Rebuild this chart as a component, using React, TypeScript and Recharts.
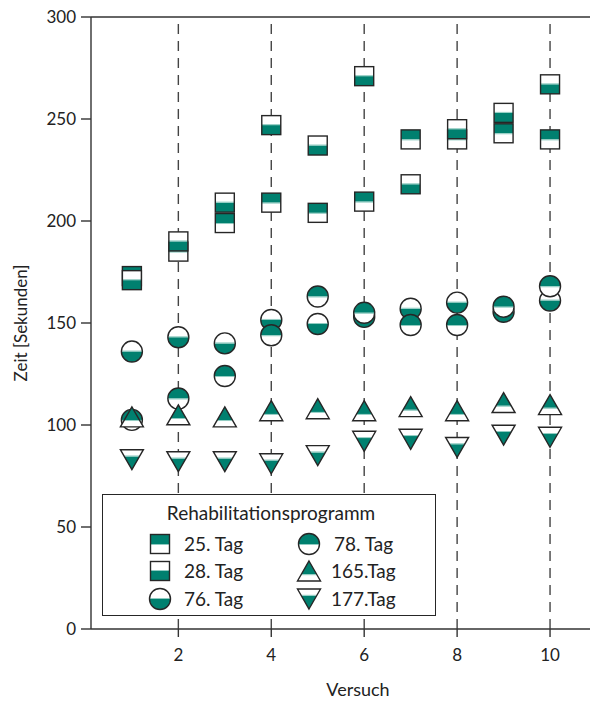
import React from 'react';
import { ScatterChart, Scatter, XAxis, YAxis, ReferenceLine, Legend } from 'recharts';

const TEAL = '#00806f';
const SEAM = '#8fcbc1';
const EDGE = '#262626';
const FONT = 'Lato, "Open Sans", sans-serif';

const trials = [1, 2, 3, 4, 5, 6, 7, 8, 9, 10];
const xTicks = [2, 4, 6, 8, 10];
const yTicks = [0, 50, 100, 150, 200, 250, 300];

const tag25 = [173, 185, 199, 209, 204, 209.5, 240, 240, 243, 240];
const tag28 = [171, 190, 209, 247, 237, 271, 218, 245, 253, 267];
const tag76 = [136, 143, 140, 151.5, 149.5, 153, 157, 160, 155.5, 161];
const tag78 = [102.5, 113, 124, 144, 163, 155, 149, 149, 158, 168];
const tag165 = [104, 105, 104, 107, 108, 107, 109, 107, 111, 110];
const tag177 = [83, 82, 82, 81, 85, 92, 93, 89, 95, 94];

const seriesNames = ['25. Tag', '28. Tag', '76. Tag', '78. Tag', '165.Tag', '177.Tag'];

type Kind = 'sqTop' | 'sqBot' | 'cirBot' | 'cirTop' | 'triUp' | 'triDown';

const toPoints = (vals: number[]) => vals.map((y, i) => ({ x: trials[i], y }));

function MarkerShape({ cx, cy, kind }: { cx: number; cy: number; kind: Kind }) {
  if (cx == null || cy == null) return null;
  if (kind === 'sqTop' || kind === 'sqBot') {
    const s = 19;
    const x = cx - s / 2;
    const y = cy - s / 2;
    const top = kind === 'sqTop';
    return (
      <g>
        <rect x={x} y={y} width={s} height={s} fill="#fff" />
        <rect x={x} y={top ? y : cy} width={s} height={s / 2} fill={TEAL} />
        <line x1={x} x2={x + s} y1={top ? cy + 0.5 : cy - 0.5} y2={top ? cy + 0.5 : cy - 0.5} stroke={SEAM} strokeWidth={1} />
        <rect x={x} y={y} width={s} height={s} fill="none" stroke={EDGE} strokeWidth={1.4} />
      </g>
    );
  }
  if (kind === 'cirTop' || kind === 'cirBot') {
    const r = 10.5;
    const top = kind === 'cirTop';
    const d = `M ${cx - r} ${cy} A ${r} ${r} 0 0 ${top ? 1 : 0} ${cx + r} ${cy} Z`;
    return (
      <g>
        <circle cx={cx} cy={cy} r={r} fill="#fff" />
        <path d={d} fill={TEAL} />
        <line x1={cx - r + 0.5} x2={cx + r - 0.5} y1={top ? cy + 0.5 : cy - 0.5} y2={top ? cy + 0.5 : cy - 0.5} stroke={SEAM} strokeWidth={1} />
        <circle cx={cx} cy={cy} r={r} fill="none" stroke={EDGE} strokeWidth={1.4} />
      </g>
    );
  }
  const w = 23;
  const h = 20;
  const f = 0.66;
  if (kind === 'triUp') {
    const ay = cy - h / 2;
    const by = cy + h / 2;
    const my = ay + f * h;
    return (
      <g>
        <polygon points={`${cx},${ay} ${cx + w / 2},${by} ${cx - w / 2},${by}`} fill="#fff" />
        <polygon points={`${cx},${ay} ${cx + (f * w) / 2},${my} ${cx - (f * w) / 2},${my}`} fill={TEAL} />
        <line x1={cx - (f * w) / 2} x2={cx + (f * w) / 2} y1={my + 0.5} y2={my + 0.5} stroke={SEAM} strokeWidth={1} />
        <polygon points={`${cx},${ay} ${cx + w / 2},${by} ${cx - w / 2},${by}`} fill="none" stroke={EDGE} strokeWidth={1.4} />
      </g>
    );
  }
  const ay = cy + h / 2;
  const by = cy - h / 2;
  const my = ay - f * h;
  return (
    <g>
      <polygon points={`${cx},${ay} ${cx + w / 2},${by} ${cx - w / 2},${by}`} fill="#fff" />
      <polygon points={`${cx},${ay} ${cx + (f * w) / 2},${my} ${cx - (f * w) / 2},${my}`} fill={TEAL} />
      <line x1={cx - (f * w) / 2} x2={cx + (f * w) / 2} y1={my - 0.5} y2={my - 0.5} stroke={SEAM} strokeWidth={1} />
      <polygon points={`${cx},${ay} ${cx + w / 2},${by} ${cx - w / 2},${by}`} fill="none" stroke={EDGE} strokeWidth={1.4} />
    </g>
  );
}

const kinds: Kind[] = ['sqTop', 'sqBot', 'cirBot', 'cirTop', 'triUp', 'triDown'];
const seriesData = [tag25, tag28, tag76, tag78, tag165, tag177];

const makeShape = (kind: Kind) => (props: any) => <MarkerShape cx={props.cx} cy={props.cy} kind={kind} />;

function LegendBox() {
  const rows = [0, 1, 2];
  const rowY = [49, 76, 104];
  const textDy = 7;
  return (
    <div style={{ width: 334, height: 122, border: `1.3px solid ${EDGE}`, background: '#fff', boxSizing: 'border-box' }}>
      <svg width={332} height={120} style={{ display: 'block' }}>
        <text x={168} y={25} textAnchor="middle" fontFamily={FONT} fontSize={19} fill="#222">
          Rehabilitationsprogramm
        </text>
        {rows.map((r) => (
          <g key={r}>
            <MarkerShape cx={57} cy={rowY[r]} kind={kinds[r]} />
            <text x={81} y={rowY[r] + textDy} fontFamily={FONT} fontSize={19} fill="#222">
              {seriesNames[r]}
            </text>
            <MarkerShape cx={206} cy={rowY[r]} kind={kinds[r + 3]} />
            <text x={r === 0 ? 231 : 228} y={rowY[r] + textDy} fontFamily={FONT} fontSize={19} fill="#222">
              {seriesNames[r + 3]}
            </text>
          </g>
        ))}
      </svg>
    </div>
  );
}

export default function App() {
  return (
    <div style={{ position: 'absolute', left: 0, top: 0, width: 595, height: 701, background: '#fff', fontFamily: FONT }}>
      <ScatterChart width={595} height={701} margin={{ top: 17, right: 5, bottom: 0, left: 0 }}>
        <XAxis
          type="number"
          dataKey="x"
          domain={[0.12, 10.86]}
          ticks={xTicks}
          height={72}
          tickSize={8}
          tickMargin={12}
          axisLine={{ stroke: '#333', strokeWidth: 1.4 }}
          tickLine={{ stroke: '#333', strokeWidth: 1.4 }}
          tick={{ fill: '#222', fontSize: 17, fontFamily: FONT }}
          allowDataOverflow
          label={{
            content: () => (
              <text x={358} y={696} textAnchor="middle" fontFamily={FONT} fontSize={18} fill="#222">
                Versuch
              </text>
            ),
          }}
        />
        <YAxis
          type="number"
          dataKey="y"
          domain={[0, 300]}
          ticks={yTicks}
          width={91}
          tickSize={10}
          tickMargin={5}
          axisLine={{ stroke: '#333', strokeWidth: 1.4 }}
          tickLine={{ stroke: '#333', strokeWidth: 1.4 }}
          tick={{ fill: '#222', fontSize: 17, fontFamily: FONT }}
          allowDataOverflow
          label={{
            content: () => (
              <text x={27} y={323} transform="rotate(-90 27 323)" textAnchor="middle" fontFamily={FONT} fontSize={17} fill="#222">
                Zeit [Sekunden]
              </text>
            ),
          }}
        />
        {xTicks.map((t) => (
          <ReferenceLine key={`g${t}`} x={t} stroke="#444" strokeWidth={1.4} strokeDasharray="10 7" />
        ))}
        <ReferenceLine y={300} stroke="#333" strokeWidth={1.4} />
        {seriesData.map((vals, i) => (
          <Scatter
            key={seriesNames[i]}
            name={seriesNames[i]}
            data={toPoints(vals)}
            shape={makeShape(kinds[i])}
            isAnimationActive={false}
          />
        ))}
        <Legend
          layout="horizontal"
          verticalAlign="middle"
          align="center"
          wrapperStyle={{ left: 102, top: 494, width: 336, height: 124 }}
          content={() => <LegendBox />}
        />
      </ScatterChart>
    </div>
  );
}
